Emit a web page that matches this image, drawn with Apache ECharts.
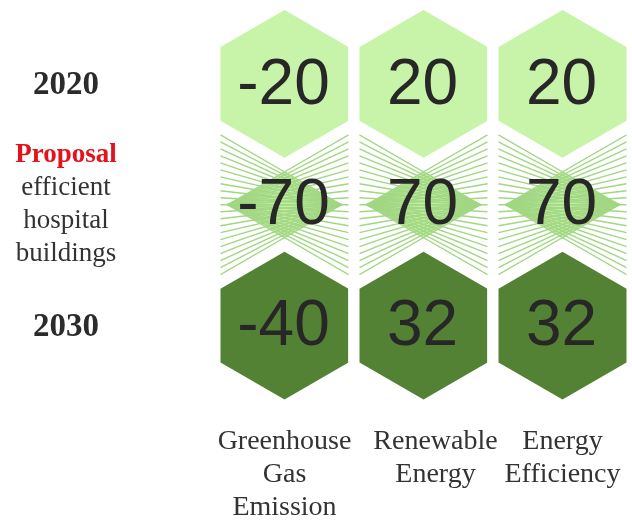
<!DOCTYPE html>
<html><head><meta charset="utf-8">
<script src="https://cdn.jsdelivr.net/npm/echarts@6/dist/echarts.min.js"></script>
<style>html,body{margin:0;padding:0;background:#fff}#c{width:632px;height:524px}</style>
</head><body><div id="c"></div>
<script>
const categories = ['Greenhouse\nGas\nEmission', 'Renewable\nEnergy', 'Energy\nEfficiency'];
const rowLabels = ['2020', 'Proposal', '2030'];
const values2020 = [-20, 20, 20];
const valuesProposal = [-70, 70, 70];
const values2030 = [-40, 32, 32];

const SERIF = '"Liberation Serif", "Times New Roman", serif';
const SANS = '"Liberation Sans", Arial, sans-serif';

function hexPts(cx, cy, R) {
  const pts = [];
  for (let k = 0; k < 6; k++) {
    const a = (-90 + 60 * k) * Math.PI / 180;
    pts.push([cx + R * Math.cos(a), cy + R * Math.sin(a)]);
  }
  return pts;
}

function hexItem(fill) {
  return function (params, api) {
    const c = api.coord([api.value(0), api.value(1)]);
    const band = api.size([1, 1]);
    const R = band[1] * 0.6116;
    return {
      type: 'group',
      children: [
        { type: 'polygon', shape: { points: hexPts(c[0], c[1], R + 13) }, style: { fill: '#ffffff' } },
        { type: 'polygon', shape: { points: hexPts(c[0], c[1], R) }, style: { fill: fill } },
        { type: 'text', x: c[0] - 1, y: c[1] + 2, style: { text: String(api.value(2)), fill: '#272727', font: '64px ' + SANS, align: 'center', verticalAlign: 'middle' } }
      ]
    };
  };
}

function midItem(params, api) {
  const c = api.coord([api.value(0), api.value(1)]);
  const band = api.size([1, 1]);
  const R = band[1] * 0.6116;
  const halfW = R * Math.sqrt(3) / 2;
  const apexOff = halfW * 0.89;
  const tan30 = Math.tan(Math.PI / 6);
  const dh = apexOff * tan30;
  const children = [];
  children.push({ type: 'polygon', shape: { points: [[c[0] - apexOff, c[1]], [c[0], c[1] - dh], [c[0] + apexOff, c[1]], [c[0], c[1] + dh]] }, style: { fill: '#c2eea4' } });
  const n = 21;
  const dx = apexOff + halfW;
  for (let i = 0; i < n; i++) {
    const t = -1 + 2 * i / (n - 1);
    const yy = c[1] + t * dx * tan30;
    children.push({ type: 'line', shape: { x1: c[0] + apexOff, y1: c[1], x2: c[0] - halfW, y2: yy }, style: { stroke: '#a2d784', lineWidth: 1.4 } });
    children.push({ type: 'line', shape: { x1: c[0] - apexOff, y1: c[1], x2: c[0] + halfW, y2: yy }, style: { stroke: '#a2d784', lineWidth: 1.4 } });
  }
  children.push({ type: 'text', x: c[0] - 1, y: c[1] + 2, style: { text: String(api.value(2)), fill: '#272727', font: '64px ' + SANS, align: 'center', verticalAlign: 'middle' } });
  return { type: 'group', children: children };
}

function rowData(vals, row) { return vals.map((v, i) => [i, row, v]); }

const chart = echarts.init(document.getElementById('c'), null, { renderer: 'canvas' });
chart.setOption({
  animation: false,
  backgroundColor: '#ffffff',
  grid: { left: 215, top: 23.5, width: 419, height: 363 },
  xAxis: {
    type: 'category',
    data: categories.map((c, i) => i === 1 ? { value: c, textStyle: { padding: [0, 0, 0, 24] } } : c),
    axisLine: { show: false }, axisTick: { show: false }, splitLine: { show: false },
    axisLabel: { interval: 0, margin: 39, color: '#333333', fontFamily: SERIF, fontSize: 28, lineHeight: 33 }
  },
  yAxis: {
    type: 'category',
    inverse: true,
    data: rowLabels,
    axisLine: { show: false }, axisTick: { show: false }, splitLine: { show: false },
    axisLabel: {
      interval: 0, margin: 149, align: 'center',
      formatter: function (v) {
        if (v === 'Proposal') return '{p|Proposal}\n{n|efficient}\n{n|hospital}\n{n|buildings}';
        return '{y|' + v + '}';
      },
      rich: {
        y: { fontFamily: SERIF, fontSize: 33, fontWeight: 'bold', color: '#2b2b2b', padding: [4, 0, 0, 0] },
        p: { fontFamily: SERIF, fontSize: 27, fontWeight: 'bold', color: '#e3121b', lineHeight: 33 },
        n: { fontFamily: SERIF, fontSize: 27, color: '#333333', lineHeight: 33 }
      }
    }
  },
  series: [
    { type: 'custom', name: 'Proposal', z: 1, renderItem: midItem, data: rowData(valuesProposal, 1) },
    { type: 'custom', name: '2020', z: 2, renderItem: hexItem('#c8f4aa'), data: rowData(values2020, 0) },
    { type: 'custom', name: '2030', z: 2, renderItem: hexItem('#548235'), data: rowData(values2030, 2) }
  ]
});
</script>
</body></html>
